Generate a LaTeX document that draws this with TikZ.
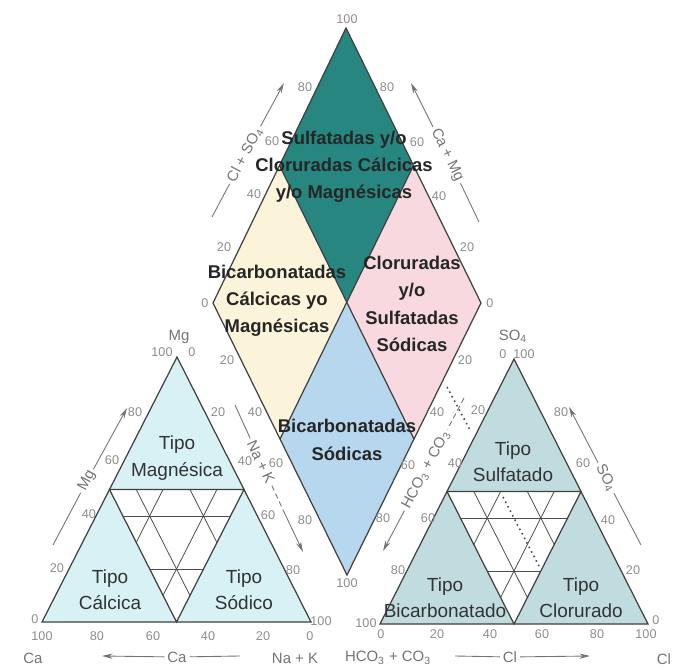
\documentclass[tikz,border=0pt]{standalone}
\usepackage{fontspec}
\setmainfont{Liberation Sans}
\usetikzlibrary{calc,arrows.meta}

\definecolor{sulfcol}{HTML}{27867F}
\definecolor{bicacol}{HTML}{FBF3DA}
\definecolor{clorcol}{HTML}{F8D9E0}
\definecolor{bisocol}{HTML}{B7D7EE}
\definecolor{catcol}{HTML}{D7F1F5}
\definecolor{ancol}{HTML}{C0DCDF}

\tikzset{
  border/.style={draw=black!75,line width=0.7pt},
  gridline/.style={draw=black!70,line width=0.45pt},
  axisline/.style={draw=black!55,line width=0.5pt},
  axistip/.style={-{Stealth[length=6pt,width=3pt]}},
  region/.style={font=\bfseries\fontsize{10.5}{15.5}\selectfont,align=center,text=black!85,inner sep=0pt},
  tipo/.style={font=\fontsize{10.8}{15}\selectfont,align=center,text=black!80,inner sep=0pt},
  tick/.style={font=\fontsize{7.2}{8}\selectfont,text=black!45,inner sep=0pt},
  axisname/.style={font=\fontsize{8.5}{10}\selectfont,text=black!55,inner sep=1.5pt},
}

\begin{document}
\begin{tikzpicture}[x=0.02cm,y=-0.02cm]
  \useasboundingbox (0,0) rectangle (675,671);

  \coordinate (ca) at (42,622);
  \coordinate (nak) at (311,622);
  \coordinate (mg) at (177,357);
  \coordinate (hco) at (380,624);
  \coordinate (cl) at (648,624);
  \coordinate (so) at (514,359);
  \coordinate (dt) at (346,28);
  \coordinate (dl) at (213,303);
  \coordinate (dr) at (481,303);
  \coordinate (db) at (347,575);

  \coordinate (camg) at ($(ca)!0.5!(mg)$);
  \coordinate (nakmg) at ($(nak)!0.5!(mg)$);
  \coordinate (canak) at ($(ca)!0.5!(nak)$);
  \coordinate (hcoso) at ($(hco)!0.5!(so)$);
  \coordinate (clso) at ($(cl)!0.5!(so)$);
  \coordinate (hcocl) at ($(hco)!0.5!(cl)$);
  \coordinate (dc) at ($(dl)!0.5!(dr)$);
  \coordinate (dtl) at ($(dt)!0.5!(dl)$);
  \coordinate (dtr) at ($(dt)!0.5!(dr)$);
  \coordinate (dbl) at ($(db)!0.5!(dl)$);
  \coordinate (dbr) at ($(db)!0.5!(dr)$);

  \fill[catcol] (ca) -- (nak) -- (mg) -- cycle;
  \fill[white] (camg) -- (nakmg) -- (canak) -- cycle;
  \fill[ancol] (hco) -- (cl) -- (so) -- cycle;
  \fill[white] (hcoso) -- (clso) -- (hcocl) -- cycle;
  \fill[sulfcol] (dt) -- (dtl) -- (dc) -- (dtr) -- cycle;
  \fill[bicacol] (dtl) -- (dl) -- (dbl) -- (dc) -- cycle;
  \fill[clorcol] (dtr) -- (dc) -- (dbr) -- (dr) -- cycle;
  \fill[bisocol] (dc) -- (dbl) -- (db) -- (dbr) -- cycle;

  \begin{scope}[gridline]
    \draw (122.7,516) -- (230.3,516);
    \draw (149.6,569) -- (203.4,569);
    \draw (136.2,489.5) -- (190,595.5);
    \draw (190,489.5) -- (216.9,542.5);
    \draw (216.9,489.5) -- (163,595.5);
    \draw (163,489.5) -- (136.2,542.5);
    \draw (460.4,518) -- (567.6,518);
    \draw (487.2,571) -- (540.8,571);
    \draw (473.8,491.5) -- (527.4,597.5);
    \draw (527.4,491.5) -- (554.2,544.5);
    \draw (554.2,491.5) -- (500.6,597.5);
    \draw (500.6,491.5) -- (473.8,544.5);
  \end{scope}
  \draw[black!70,line width=0.9pt,dotted] (503,497) -- (540,568);
  \draw[black!70,line width=0.9pt,dotted] (447,387) -- (470,430);

  \draw[border] (ca) -- (nak) -- (mg) -- cycle;
  \draw[border] (camg) -- (nakmg) -- (canak) -- cycle;
  \draw[border] (hco) -- (cl) -- (so) -- cycle;
  \draw[border] (hcoso) -- (clso) -- (hcocl) -- cycle;
  \draw[border] (dt) -- (dl) -- (db) -- (dr) -- cycle;
  \draw[border] (dtl) -- (dbr);
  \draw[border] (dtr) -- (dbl);

  \node[region] (sulf) at (344,167) {Sulfatadas y/o\\Cloruradas Cálcicas\\y/o Magnésicas};
  \node[region] (bicca) at (277,301) {Bicarbonatadas\\Cálcicas yo\\Magnésicas};
  \node[region] (clso4) at (412,304) {Cloruradas\\y/o\\Sulfatadas\\Sódicas};
  \node[region] (bicna) at (347,440) {Bicarbonatadas\\Sódicas};

  \node[tipo] (tmag) at (177,458) {Tipo\\Magnésica};
  \node[tipo] (tcal) at (110,590) {Tipo\\Cálcica};
  \node[tipo] (tsod) at (244,590) {Tipo\\Sódico};
  \node[tipo] (tsul) at (513,462) {Tipo\\Sulfatado};
  \node[tipo] (tbic) at (445,598) {Tipo\\Bicarbonatado};
  \node[tipo] (tclo) at (581,598) {Tipo\\Clorurado};

  \begin{scope}[every node/.style=tick]
    \path
      (162,352) node (lt100){100}
      (192,352) node (lt0){0}
      (35,619) node (ll0){0}
      (57,568) node (ll20){20}
      (89,514) node (ll40){40}
      (112,460) node (ll60){60}
      (135,412) node (ll80){80}
      (218,412) node (lr20){20}
      (245,461) node (lr40){40}
      (268,515) node (lr60){60}
      (293,570) node (lr80){80}
      (321,621) node (lr100){100}
      (42,636) node (lb100){100}
      (97,636) node (lb80){80}
      (153,636) node (lb60){60}
      (208,636) node (lb40){40}
      (263,636) node (lb20){20}
      (310,636) node (lb0){0};
    \path
      (503,354) node (rt0){0}
      (524,354) node (rt100){100}
      (478,410) node (rl20){20}
      (455,463) node (rl40){40}
      (428,518) node (rl60){60}
      (398,570) node (rl80){80}
      (366,623) node (rl100){100}
      (561,412) node (rr80){80}
      (583,463) node (rr60){60}
      (608,520) node (rr40){40}
      (633,570) node (rr20){20}
      (656,620) node (rr0){0}
      (381,634) node (rb0){0}
      (437,634) node (rb20){20}
      (490,634) node (rb40){40}
      (542,634) node (rb60){60}
      (597,634) node (rb80){80}
      (646,634) node (rb100){100};
    \path
      (347,19) node (dt100){100}
      (305,87) node (dul80){80}
      (272,141) node (dul60){60}
      (254,194) node (dul40){40}
      (224,247) node (dul20){20}
      (205,303) node (dul0){0}
      (387,87) node (dur80){80}
      (417,142) node (dur60){60}
      (439,196) node (dur40){40}
      (467,247) node (dur20){20}
      (490,303) node (dur0){0}
      (227,360) node (dll20){20}
      (255,412) node (dll40){40}
      (276,463) node (dll60){60}
      (305,520) node (dll80){80}
      (347,583) node (db100){100}
      (465,360) node (dlr20){20}
      (437,412) node (dlr40){40}
      (408,465) node (dlr60){60}
      (383,518) node (dlr80){80};
  \end{scope}

  \node[axisname] (mgname) at (179,337) {Mg};
  \node[axisname] (soname) at (513,336) {SO\textsubscript{4}};
  \node[axisname] (caname) at (33,658) {Ca};
  \node[axisname] (nakname) at (295,658) {Na + K};
  \node[axisname] (hconame) at (388,658) {HCO\textsubscript{3} + CO\textsubscript{3}};
  \node[axisname] (clname) at (664,659) {Cl};

  \node[axisname] (caarr) at (177,657) {Ca};
  \coordinate (caarrL) at (102,656);
  \coordinate (caarrR) at (240,656);
  \draw[axisline] (caarrR) -- (caarr);
  \draw[axisline,axistip] (caarr) -- (caarrL);

  \node[axisname] (clarr) at (510,657) {Cl};
  \coordinate (clarrL) at (455,656);
  \coordinate (clarrR) at (590,656);
  \draw[axisline] (clarrL) -- (clarr);
  \draw[axisline,axistip] (clarr) -- (clarrR);

  \node[axisname,rotate=62] (mgax) at (87,481) {Mg};
  \coordinate (mgaxA) at (53,545);
  \coordinate (mgaxB) at (127,408);
  \draw[axisline] (mgaxA) -- (mgax);
  \draw[axisline,axistip] (mgax) -- (mgaxB);

  \node[axisname,rotate=-65] (nakax) at (261,462) {Na + K};
  \coordinate (nakaxA) at (235,405);
  \coordinate (nakaxM) at (284,512);
  \coordinate (nakaxB) at (303,552);
  \draw[axisline] (nakaxA) -- (nakax);
  \draw[axisline,densely dashed] (nakax) -- (nakaxM);
  \draw[axisline,axistip] (nakaxM) -- (nakaxB);

  \node[axisname,rotate=-62] (soax) at (606,478) {SO\textsubscript{4}};
  \coordinate (soaxA) at (641,545);
  \coordinate (soaxB) at (569,407);
  \draw[axisline] (soaxA) -- (soax);
  \draw[axisline,axistip] (soax) -- (soaxB);

  \node[axisname,rotate=62] (hcoax) at (426,470) {HCO\textsubscript{3} + CO\textsubscript{3}};
  \coordinate (hcoaxA) at (464,398);
  \coordinate (hcoaxB) at (383,551);
  \draw[axisline,densely dashed] (hcoaxA) -- (hcoax);
  \draw[axisline,axistip] (hcoax) -- (hcoaxB);

  \node[axisname,rotate=62] (clsoax) at (245,155) {Cl + SO\textsubscript{4}};
  \coordinate (clsoaxA) at (212,217);
  \coordinate (clsoaxB) at (284,83);
  \draw[axisline] (clsoaxA) -- (clsoax);
  \draw[axisline,axistip] (clsoax) -- (clsoaxB);

  \node[axisname,rotate=-64] (camgax) at (447,155) {Ca + Mg};
  \coordinate (camgaxA) at (479,222);
  \coordinate (camgaxB) at (411,83);
  \draw[axisline] (camgaxA) -- (camgax);
  \draw[axisline,axistip] (camgax) -- (camgaxB);
\end{tikzpicture}
\end{document}
